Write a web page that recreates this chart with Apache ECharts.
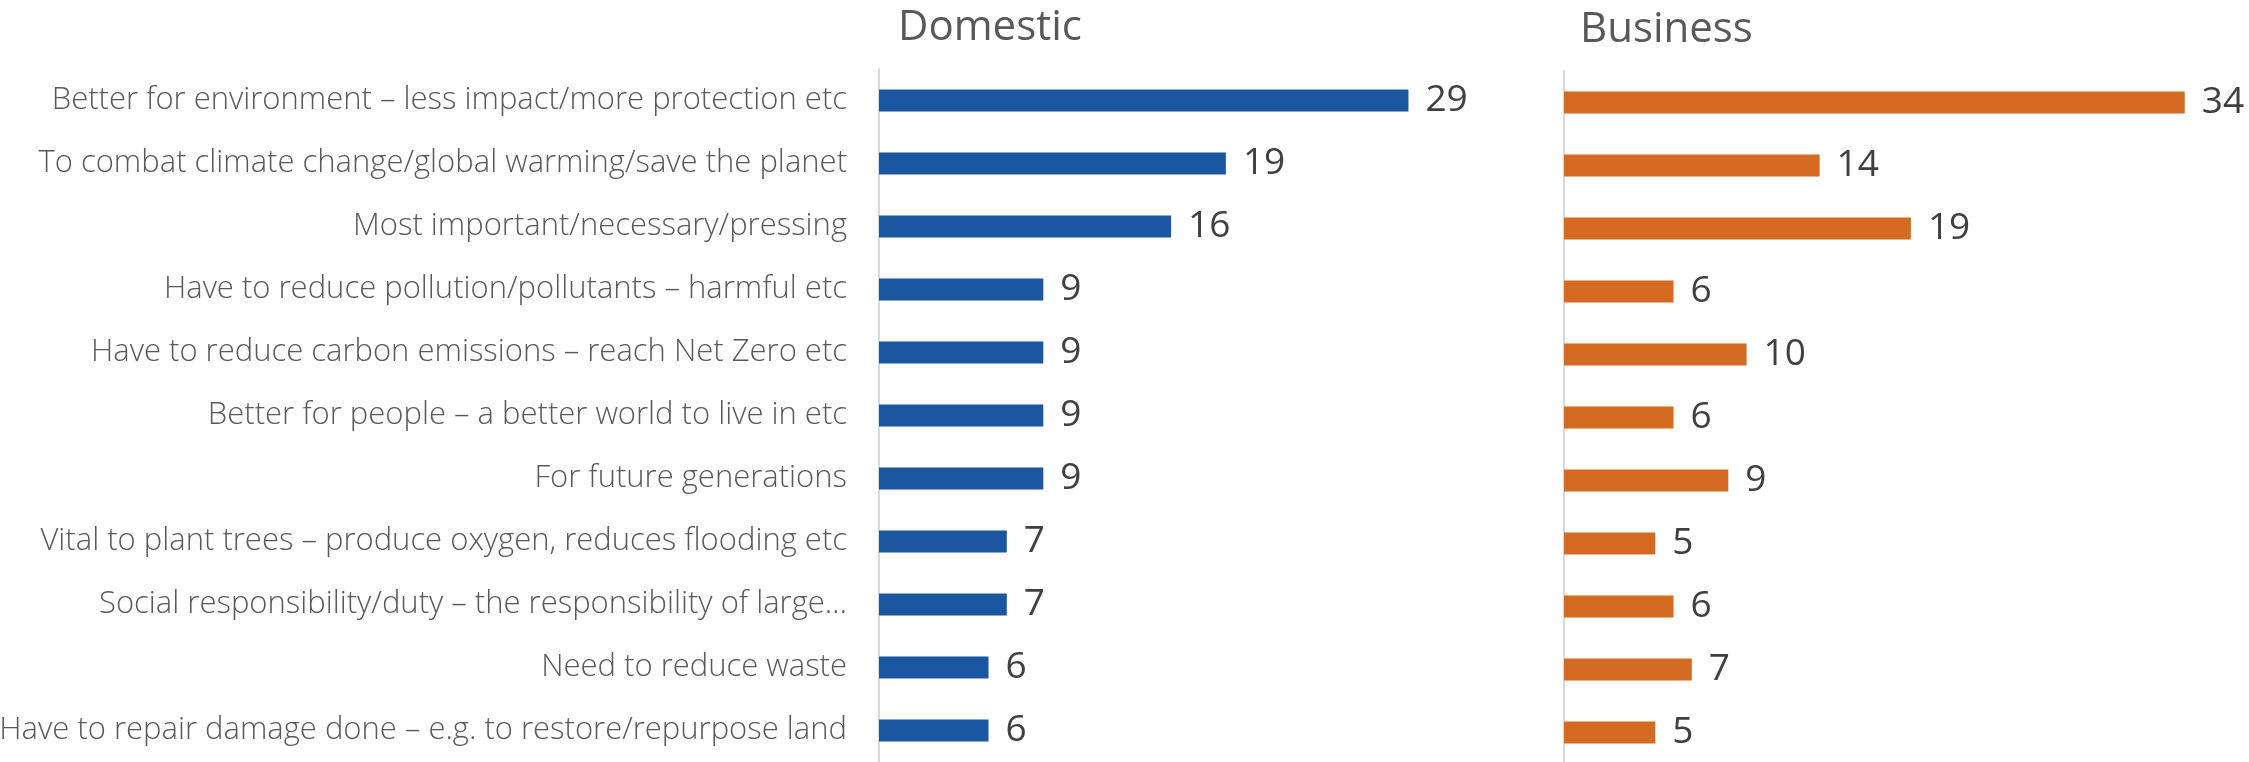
<!DOCTYPE html>
<html>
<head>
<meta charset="utf-8">
<script src="https://cdn.jsdelivr.net/npm/echarts@6/dist/echarts.min.js"></script>
<style>
  html, body { margin: 0; padding: 0; background: #ffffff; }
  #chart { width: 2249px; height: 762px; }
</style>
</head>
<body>
<div id="chart"></div>
<script>
// Reasons given, top to bottom
const categories = [
  'Better for environment – less impact/more protection etc',
  'To combat climate change/global warming/save the planet',
  'Most important/necessary/pressing',
  'Have to reduce pollution/pollutants – harmful etc',
  'Have to reduce carbon emissions – reach Net Zero etc',
  'Better for people – a better world to live in etc',
  'For future generations',
  'Vital to plant trees – produce oxygen, reduces flooding etc',
  'Social responsibility/duty – the responsibility of large…',
  'Need to reduce waste',
  'Have to repair damage done – e.g. to restore/repurpose land'
];
const domesticValues = [29, 19, 16, 9, 9, 9, 9, 7, 7, 6, 6];
const businessValues = [34, 14, 19, 6, 10, 6, 9, 5, 6, 7, 5];
const panelTitles = ['Domestic', 'Business'];

const FONT = '"Open Sans", "Noto Sans", sans-serif';
const AXIS_MAX = 35;
const PANEL_W = 639;

const chart = echarts.init(document.getElementById('chart'), null, { renderer: 'canvas' });

function valueAxis(gridIndex) {
  return {
    type: 'value', gridIndex: gridIndex, min: 0, max: AXIS_MAX,
    show: false
  };
}
function catAxis(gridIndex, showLabels) {
  return {
    type: 'category', gridIndex: gridIndex, data: categories, inverse: true,
    axisLine: { show: true, lineStyle: { color: '#d9d9d9', width: 2 } },
    axisTick: { show: false },
    axisLabel: {
      show: showLabels, margin: 32, fontFamily: FONT, fontWeight: 300,
      fontSize: 31, color: '#595959'
    },
    splitLine: { show: false }
  };
}
function barSeries(idx, values, color) {
  return {
    type: 'bar', xAxisIndex: idx, yAxisIndex: idx, data: values,
    barWidth: 22,
    itemStyle: { color: color },
    label: {
      show: true, position: 'right', distance: 17,
      fontFamily: FONT, fontSize: 37, color: '#404040'
    },
    silent: true
  };
}

const titleStyle = { fontFamily: FONT, fontWeight: 400, fontSize: 42, color: '#595959' };

chart.setOption({
  animation: false,
  backgroundColor: '#ffffff',
  title: [
    { text: panelTitles[0], left: 893, top: 2, textStyle: titleStyle },
    { text: panelTitles[1], left: 1575, top: 4, textStyle: titleStyle }
  ],
  grid: [
    { left: 879, top: 69, width: PANEL_W, bottom: 0, containLabel: false, outerBoundsMode: 'none' },
    { left: 1564, top: 71, width: PANEL_W, bottom: -2, containLabel: false, outerBoundsMode: 'none' }
  ],
  xAxis: [valueAxis(0), valueAxis(1)],
  yAxis: [catAxis(0, true), catAxis(1, false)],
  series: [
    barSeries(0, domesticValues, '#1b57a0'),
    barSeries(1, businessValues, '#d56a22')
  ]
});
</script>
</body>
</html>
